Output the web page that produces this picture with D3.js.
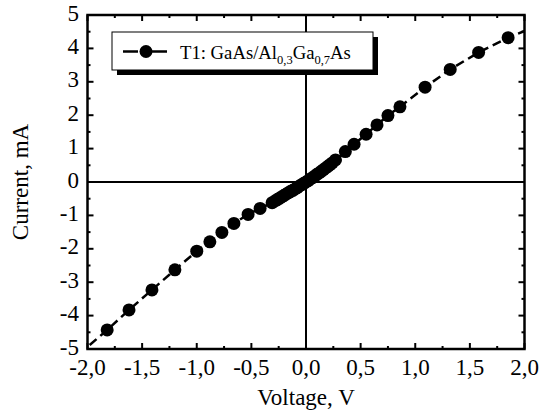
<!DOCTYPE html>
<html><head><meta charset="utf-8">
<script src="https://cdn.jsdelivr.net/npm/d3@7"></script>
<style>body{margin:0;background:#fff}svg{display:block}</style>
</head><body><svg id="c" width="542" height="415" font-family="'Liberation Serif','Times New Roman','DejaVu Serif',serif"></svg>
<script>
const voltage = [-1.82,-1.62,-1.41,-1.20,-1.00,-0.88,-0.77,-0.66,-0.53,-0.42,-0.31,-0.28,-0.26,-0.24,-0.22,-0.20,-0.18,-0.16,-0.14,-0.12,-0.10,-0.08,-0.06,-0.04,-0.02,0.00,0.02,0.04,0.06,0.08,0.10,0.12,0.14,0.16,0.18,0.20,0.22,0.24,0.27,0.36,0.44,0.55,0.65,0.75,0.86,1.09,1.32,1.58,1.85];
const current = [-4.43,-3.83,-3.23,-2.63,-2.07,-1.79,-1.51,-1.24,-0.97,-0.79,-0.62,-0.56,-0.52,-0.48,-0.44,-0.40,-0.36,-0.32,-0.28,-0.25,-0.21,-0.17,-0.12,-0.08,-0.04,0.00,0.04,0.09,0.13,0.18,0.23,0.27,0.32,0.37,0.42,0.47,0.52,0.57,0.66,0.91,1.13,1.43,1.71,1.99,2.25,2.84,3.37,3.88,4.32];
const lineStart = [-1.98,-4.88];
const lineEnd = [2.0,4.52];
const xTicks = [-2,-1.5,-1,-0.5,0,0.5,1,1.5,2];
const yTicks = [-5,-4,-3,-2,-1,0,1,2,3,4,5];
const legendLabel = ["T1: GaAs/Al","0,3","Ga","0,7","As"];

const FONT = "'Liberation Serif','Times New Roman','DejaVu Serif',serif";
const svg = d3.select("#c");
const L=87.5,R=524.5,T=15,B=349;
const x = d3.scaleLinear().domain([-2,2]).range([L,R]);
const y = d3.scaleLinear().domain([-5,5]).range([B,T]);
const fmt = v => d3.format(".1f")(v).replace(".",",").replace("−","-");

const g = svg.append("g");
g.append("line").attr("x1",L).attr("x2",R).attr("y1",y(0)).attr("y2",y(0)).attr("stroke","#000").attr("stroke-width",2);
g.append("line").attr("x1",x(0)).attr("x2",x(0)).attr("y1",T).attr("y2",B).attr("stroke","#000").attr("stroke-width",2);

const xMinor = d3.range(-2,2.001,0.25);
const yMinor = d3.range(-5,5.001,0.5);
xMinor.forEach(v=>{
  const major = Math.abs(v*2-Math.round(v*2))<1e-6;
  const len = major?6:3;
  g.append("line").attr("x1",x(v)).attr("x2",x(v)).attr("y1",B).attr("y2",B-len).attr("stroke","#000").attr("stroke-width",2);
  g.append("line").attr("x1",x(v)).attr("x2",x(v)).attr("y1",T).attr("y2",T+len).attr("stroke","#000").attr("stroke-width",2);
});
yMinor.forEach(v=>{
  const major = Math.abs(v-Math.round(v))<1e-6;
  const len = major?6:3;
  g.append("line").attr("y1",y(v)).attr("y2",y(v)).attr("x1",L).attr("x2",L+len).attr("stroke","#000").attr("stroke-width",2);
  g.append("line").attr("y1",y(v)).attr("y2",y(v)).attr("x1",R).attr("x2",R-len).attr("stroke","#000").attr("stroke-width",2);
});

const txt = (sel)=>sel.style("font-family",FONT).attr("fill","#000");
xTicks.forEach(v=>{
  txt(g.append("text")).attr("x",x(v)).attr("y",375).attr("text-anchor","middle").attr("font-size",23).text(fmt(v));
});
yTicks.forEach(v=>{
  txt(g.append("text")).attr("x",79).attr("y",y(v)+5.5).attr("text-anchor","end").attr("font-size",23).text(String(v));
});

const pts = voltage.map((v,i)=>[v,current[i]]);
const linePts = [lineStart, ...pts, lineEnd];
g.append("path").datum(linePts).attr("d",d3.line().x(d=>x(d[0])).y(d=>y(d[1])))
 .attr("fill","none").attr("stroke","#000").attr("stroke-width",2.5).attr("stroke-dasharray","9,5");
g.selectAll("circle.p").data(pts).join("circle").attr("class","p")
 .attr("cx",d=>x(d[0])).attr("cy",d=>y(d[1])).attr("r",6.5).attr("fill","#000");

g.append("rect").attr("x",L).attr("y",T).attr("width",R-L).attr("height",B-T).attr("fill","none").attr("stroke","#000").attr("stroke-width",2.5);

const lx=112,ly=32,lw=261,lh=38;
g.append("rect").attr("x",lx+5).attr("y",ly+5).attr("width",lw).attr("height",lh).attr("fill","#000");
g.append("rect").attr("x",lx).attr("y",ly).attr("width",lw).attr("height",lh).attr("fill","#fff").attr("stroke","#000").attr("stroke-width",1);
const lyc = 51.5;
g.append("line").attr("x1",123).attr("x2",167).attr("y1",lyc).attr("y2",lyc).attr("stroke","#000").attr("stroke-width",2.5).attr("stroke-dasharray","15,14");
g.append("circle").attr("cx",146).attr("cy",lyc).attr("r",6.5).attr("fill","#000");
const lt = txt(g.append("text")).attr("x",180).attr("y",58.5).attr("font-size",18.7);
lt.append("tspan").text(legendLabel[0]);
lt.append("tspan").attr("font-size",12.5).attr("dy",5).text(legendLabel[1]);
lt.append("tspan").attr("dy",-5).text(legendLabel[2]);
lt.append("tspan").attr("font-size",12.5).attr("dy",5).text(legendLabel[3]);
lt.append("tspan").attr("dy",-5).text(legendLabel[4]);

txt(g.append("text")).attr("x",(L+R)/2).attr("y",405).attr("text-anchor","middle").attr("font-size",23).text("Voltage, V");
txt(g.append("text")).attr("transform",`translate(28,${y(0)}) rotate(-90)`).attr("text-anchor","middle").attr("font-size",23).text("Current, mA");
</script></body></html>
